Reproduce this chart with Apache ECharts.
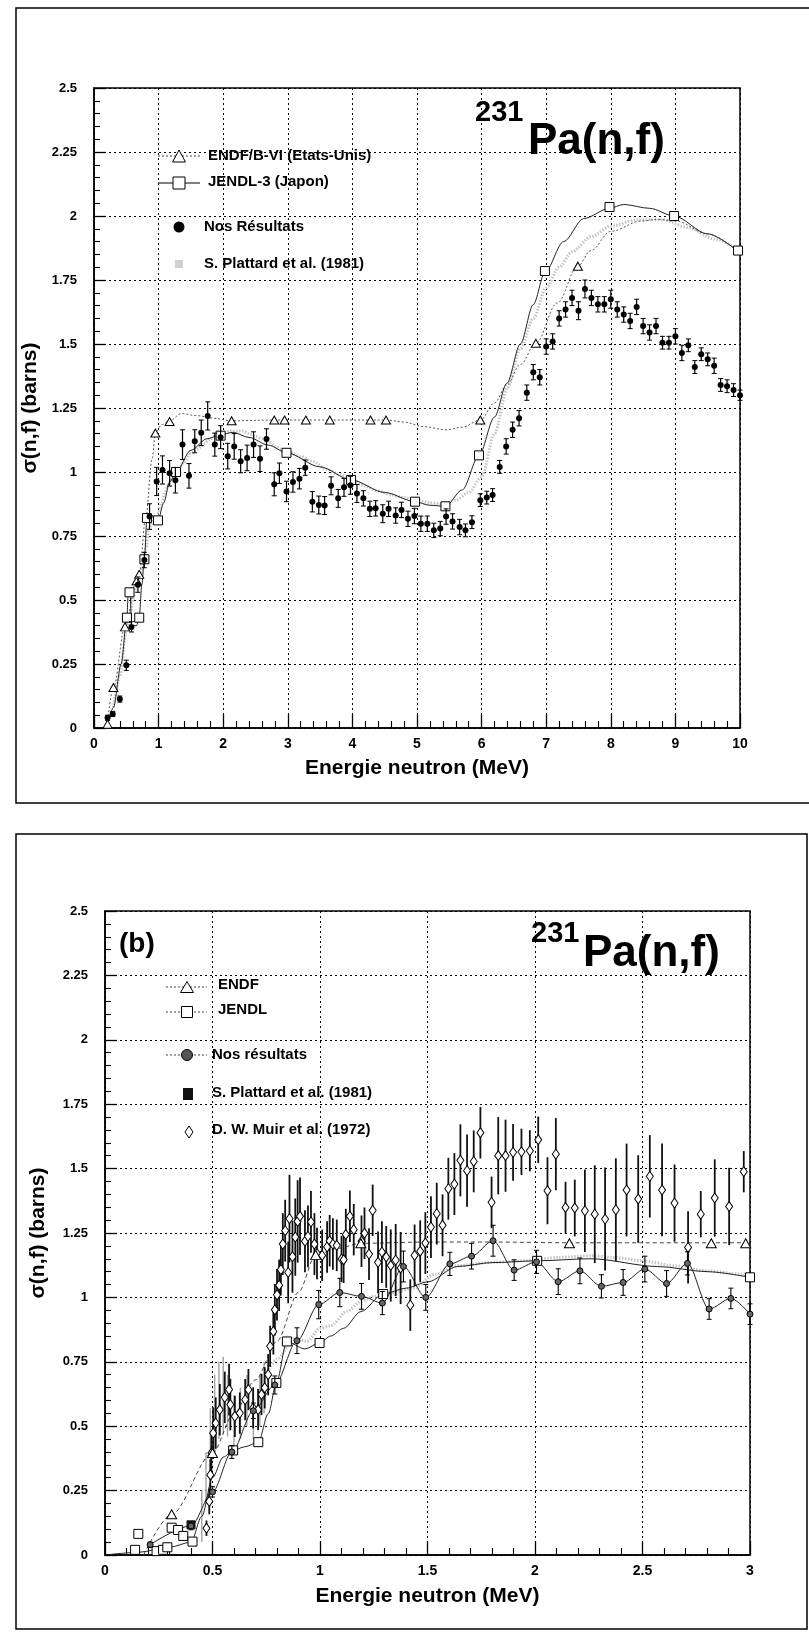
<!DOCTYPE html>
<html><head><meta charset="utf-8">
<script src="https://cdn.jsdelivr.net/npm/echarts/dist/echarts.min.js"></script>
<style>html,body{margin:0;padding:0;background:#fff}#c{width:809px;height:1635px}</style>
</head><body><div id="c"></div>
<script>
// ---------------- DATA (panel a : 0-10 MeV) ----------------
// [E (MeV), sigma (b), error]
const topNos = [[0.21,0.04,0.01],[0.29,0.055,0.01],[0.40,0.113,0.012],[0.50,0.245,0.02],[0.58,0.395,0.02],[0.68,0.56,0.03],[0.78,0.656,0.03],[0.86,0.826,0.05],[0.97,0.963,0.055],[1.06,1.008,0.055],[1.17,0.995,0.05],[1.26,0.968,0.05],[1.37,1.107,0.058],[1.47,0.985,0.048],[1.56,1.12,0.045],[1.66,1.153,0.05],[1.76,1.219,0.055],[1.87,1.107,0.045],[1.96,1.136,0.045],[2.07,1.062,0.05],[2.17,1.10,0.05],[2.27,1.042,0.045],[2.37,1.055,0.05],[2.47,1.107,0.05],[2.57,1.052,0.05],[2.67,1.129,0.04],[2.79,0.952,0.045],[2.87,0.995,0.04],[2.98,0.924,0.04],[3.08,0.961,0.04],[3.18,0.974,0.04],[3.27,1.017,0.03],[3.38,0.884,0.04],[3.48,0.871,0.035],[3.57,0.869,0.035],[3.67,0.946,0.035],[3.78,0.897,0.035],[3.87,0.940,0.035],[3.97,0.948,0.035],[4.07,0.916,0.035],[4.17,0.897,0.03],[4.27,0.856,0.03],[4.36,0.858,0.03],[4.47,0.837,0.035],[4.56,0.856,0.03],[4.67,0.83,0.03],[4.76,0.852,0.03],[4.86,0.817,0.03],[4.96,0.828,0.03],[5.06,0.798,0.03],[5.16,0.798,0.03],[5.26,0.772,0.028],[5.36,0.779,0.028],[5.45,0.826,0.03],[5.55,0.807,0.03],[5.66,0.785,0.03],[5.75,0.772,0.025],[5.85,0.804,0.025],[5.98,0.89,0.025],[6.08,0.90,0.025],[6.17,0.91,0.025],[6.28,1.02,0.025],[6.38,1.10,0.03],[6.48,1.165,0.03],[6.58,1.21,0.03],[6.70,1.31,0.03],[6.80,1.39,0.03],[6.90,1.37,0.03],[7.0,1.49,0.03],[7.1,1.51,0.03],[7.2,1.60,0.03],[7.3,1.635,0.03],[7.4,1.68,0.03],[7.5,1.63,0.035],[7.6,1.715,0.035],[7.7,1.68,0.03],[7.8,1.655,0.03],[7.9,1.655,0.03],[8.0,1.675,0.035],[8.1,1.635,0.03],[8.2,1.615,0.03],[8.3,1.59,0.03],[8.4,1.645,0.03],[8.5,1.57,0.03],[8.6,1.545,0.03],[8.7,1.57,0.03],[8.8,1.505,0.025],[8.9,1.505,0.025],[9.0,1.53,0.03],[9.1,1.465,0.03],[9.2,1.495,0.025],[9.3,1.41,0.025],[9.4,1.46,0.025],[9.5,1.44,0.025],[9.6,1.415,0.03],[9.7,1.34,0.025],[9.8,1.335,0.025],[9.9,1.32,0.025],[10.0,1.30,0.02]];
const topEndfCurve = [[0.2,0.0],[0.3,0.158],[0.48,0.395],[0.66,0.575],[0.70,0.60],[0.8,0.82],[0.9,1.05],[0.95,1.152],[1.05,1.185],[1.17,1.2],[1.35,1.228],[1.6,1.22],[1.85,1.21],[2.13,1.20],[2.8,1.203],[3.4,1.203],[4.0,1.203],[4.52,1.203],[4.8,1.195],[5.1,1.177],[5.45,1.165],[5.7,1.175],[5.98,1.203],[6.2,1.27],[6.39,1.34],[6.6,1.42],[6.84,1.503],[7.17,1.66],[7.49,1.804],[7.69,1.865],[8.0,1.94],[8.47,1.98],[8.73,1.987],[9.01,1.98],[9.5,1.93],[9.97,1.86]];
const topEndfMarks = [[0.21,0.015],[0.30,0.158],[0.48,0.395],[0.66,0.575],[0.70,0.60],[0.95,1.152],[1.17,1.197],[2.13,1.20],[2.79,1.203],[2.95,1.203],[3.28,1.203],[3.65,1.203],[4.28,1.203],[4.52,1.203],[5.98,1.203],[6.84,1.503],[7.49,1.804]];
const topJendlCurve = [[0.2,0.0],[0.3,0.08],[0.42,0.25],[0.51,0.431],[0.53,0.53],[0.56,0.53],[0.58,0.40],[0.66,0.40],[0.70,0.431],[0.74,0.56],[0.78,0.659],[0.82,0.82],[0.9,0.83],[0.99,0.811],[1.08,0.88],[1.17,0.96],[1.27,1.0],[1.5,1.085],[1.75,1.13],[1.96,1.145],[2.15,1.155],[2.4,1.135],[2.7,1.105],[2.98,1.075],[3.5,1.02],[3.98,0.969],[4.5,0.92],[4.97,0.884],[5.2,0.87],[5.44,0.866],[5.7,0.93],[5.96,1.065],[6.2,1.215],[6.39,1.346],[6.6,1.5],[6.8,1.654],[6.98,1.78],[7.27,1.90],[7.58,1.99],[7.98,2.03],[8.2,2.045],[8.6,2.03],[8.98,2.0],[9.5,1.93],[9.97,1.862]];
const topJendlMarks = [[0.51,0.431],[0.55,0.53],[0.70,0.431],[0.78,0.659],[0.82,0.82],[0.99,0.811],[1.27,1.0],[1.96,1.142],[2.98,1.075],[3.98,0.969],[4.97,0.884],[5.44,0.866],[5.96,1.065],[6.98,1.785],[7.98,2.035],[8.98,2.0],[9.97,1.865]];
const topPlattard = [[0.3,0.08],[0.4,0.2],[0.5,0.38],[0.55,0.42],[0.6,0.5],[0.65,0.55],[0.7,0.58],[0.75,0.62],[0.8,0.7],[0.85,0.78],[0.9,0.8],[0.95,0.82],[1.0,0.84],[1.05,0.88],[1.1,0.92],[1.15,0.95],[1.2,0.97],[1.3,1.01],[1.4,1.04],[1.5,1.07],[1.6,1.09],[1.7,1.11],[1.8,1.13],[1.9,1.145],[2.0,1.15],[2.1,1.16],[2.2,1.16],[2.3,1.16],[2.4,1.15],[2.5,1.14],[2.6,1.13],[2.7,1.12],[2.8,1.10],[2.9,1.09],[3.0,1.08],[3.2,1.06],[3.4,1.04],[3.6,1.01],[3.8,0.99],[4.0,0.97],[4.2,0.945],[4.4,0.925],[4.6,0.91],[4.8,0.90],[5.0,0.89],[5.2,0.88],[5.4,0.875],[5.6,0.89],[5.8,0.92],[6.0,0.98],[6.2,1.15],[6.4,1.33],[6.6,1.48],[6.8,1.6],[7.0,1.72],[7.2,1.8],[7.4,1.86],[7.7,1.92],[8.0,1.96],[8.4,1.985],[8.8,1.985],[9.2,1.955],[9.6,1.91],[10.0,1.865]];

// ---------------- DATA (panel b : 0-3 MeV) ----------------
const botNos = [[0.21,0.04,0.01],[0.40,0.113,0.015],[0.50,0.245,0.02],[0.59,0.40,0.025],[0.69,0.56,0.03],[0.79,0.66,0.035],[0.893,0.832,0.05],[0.994,0.972,0.055],[1.092,1.019,0.055],[1.193,1.004,0.05],[1.29,0.978,0.045],[1.388,1.12,0.06],[1.492,1.0,0.05],[1.604,1.13,0.045],[1.705,1.16,0.05],[1.805,1.22,0.06],[1.903,1.106,0.04],[2.007,1.138,0.045],[2.108,1.061,0.05],[2.209,1.103,0.05],[2.309,1.043,0.045],[2.41,1.058,0.05],[2.511,1.11,0.05],[2.612,1.054,0.05],[2.709,1.132,0.045],[2.81,0.955,0.04],[2.911,0.996,0.04],[3.0,0.935,0.04]];
const botEndfCurve = [[0.18,0.0],[0.31,0.158],[0.50,0.396],[0.6,0.55],[0.7,0.68],[0.8,0.83],[0.9,1.02],[0.98,1.165],[1.08,1.19],[1.19,1.21],[1.5,1.215],[1.8,1.215],[2.16,1.212],[2.5,1.212],[2.82,1.212],[3.0,1.212]];
const botEndfMarks = [[0.31,0.158],[0.50,0.396],[0.98,1.165],[1.19,1.21],[2.16,1.21],[2.82,1.21],[2.98,1.21]];
const botJendlCurve = [[0.0,0.0],[0.15,0.01],[0.3,0.03],[0.4,0.05],[0.45,0.15],[0.5,0.30],[0.55,0.38],[0.596,0.406],[0.65,0.42],[0.713,0.438],[0.76,0.55],[0.797,0.668],[0.846,0.829],[0.93,0.80],[0.998,0.823],[1.05,0.85],[1.11,0.88],[1.19,0.945],[1.294,1.013],[1.4,1.036],[1.5,1.06],[1.64,1.12],[1.8,1.135],[2.01,1.142],[2.26,1.15],[2.57,1.12],[2.8,1.10],[3.0,1.078]];
const botJendlMarks = [[0.14,0.02],[0.155,0.082],[0.24,0.015],[0.27,0.02],[0.29,0.03],[0.31,0.106],[0.34,0.097],[0.364,0.074],[0.407,0.052],[0.596,0.406],[0.713,0.438],[0.797,0.668],[0.846,0.829],[0.998,0.823],[1.294,1.013],[2.01,1.142],[3.0,1.078]];
const botPlattard = [[0.75,0.7],[0.8,0.76],[0.88,0.84],[0.94,0.83],[1.0,0.88],[1.05,0.89],[1.126,0.946],[1.19,0.984],[1.25,1.004],[1.33,1.017],[1.44,1.036],[1.53,1.088],[1.64,1.123],[1.8,1.136],[1.95,1.142],[2.11,1.155],[2.26,1.162],[2.37,1.155],[2.5,1.142],[2.65,1.123],[2.8,1.103],[2.96,1.09],[3.0,1.087]];
const botPlattardBars = [[0.45,0.15,0.1],[0.47,0.3,0.1],[0.49,0.45,0.12],[0.51,0.55,0.15],[0.53,0.6,0.15],[0.55,0.62,0.15],[0.57,0.58,0.12],[0.6,0.52,0.1],[0.63,0.55,0.1],[0.66,0.6,0.1],[0.69,0.55,0.1],[0.72,0.6,0.1],[0.74,0.65,0.1]];
const botPlattardSq = [[0.40,0.117]];
const botMuir = [[0.472,0.104,0.03],[0.485,0.208,0.05],[0.49,0.311,0.06],[0.495,0.396,0.08],[0.503,0.473,0.1],[0.515,0.512,0.1],[0.534,0.564,0.1],[0.557,0.612,0.1],[0.577,0.642,0.1],[0.583,0.584,0.1],[0.604,0.538,0.08],[0.627,0.551,0.08],[0.652,0.603,0.08],[0.667,0.642,0.08],[0.689,0.571,0.08],[0.712,0.564,0.08],[0.728,0.623,0.08],[0.743,0.649,0.08],[0.759,0.70,0.08],[0.768,0.81,0.08],[0.783,0.868,0.09],[0.79,0.952,0.1],[0.80,1.01,0.1],[0.81,1.047,0.1],[0.818,1.108,0.1],[0.827,1.207,0.12],[0.838,1.259,0.12],[0.852,1.097,0.12],[0.858,1.306,0.17],[0.872,1.158,0.14],[0.885,1.234,0.15],[0.896,1.295,0.16],[0.907,1.315,0.15],[0.93,1.218,0.12],[0.944,1.237,0.12],[0.958,1.293,0.12],[0.974,1.207,0.12],[0.986,1.17,0.1],[1.01,1.163,0.1],[1.033,1.196,0.1],[1.045,1.22,0.1],[1.06,1.207,0.1],[1.078,1.202,0.1],[1.10,1.149,0.09],[1.11,1.146,0.09],[1.12,1.244,0.1],[1.139,1.315,0.1],[1.157,1.263,0.1],[1.193,1.218,0.1],[1.207,1.249,0.1],[1.228,1.168,0.1],[1.245,1.338,0.1],[1.27,1.136,0.12],[1.288,1.176,0.12],[1.308,1.157,0.12],[1.329,1.124,0.14],[1.352,1.145,0.14],[1.375,1.114,0.14],[1.42,0.97,0.1],[1.44,1.163,0.12],[1.466,1.179,0.12],[1.49,1.211,0.12],[1.516,1.273,0.12],[1.543,1.325,0.12],[1.57,1.28,0.12],[1.597,1.422,0.12],[1.625,1.44,0.12],[1.653,1.532,0.14],[1.684,1.492,0.14],[1.715,1.528,0.12],[1.746,1.639,0.1],[1.798,1.369,0.1],[1.829,1.55,0.15],[1.863,1.55,0.14],[1.898,1.563,0.11],[1.937,1.565,0.09],[1.976,1.569,0.08],[2.015,1.612,0.09],[2.058,1.414,0.13],[2.097,1.556,0.14],[2.142,1.349,0.1],[2.185,1.347,0.11],[2.232,1.336,0.16],[2.278,1.323,0.19],[2.326,1.304,0.2],[2.376,1.34,0.2],[2.426,1.417,0.18],[2.48,1.382,0.17],[2.534,1.47,0.16],[2.591,1.417,0.18],[2.649,1.366,0.15],[2.712,1.194,0.14],[2.771,1.323,0.09],[2.836,1.386,0.15],[2.903,1.353,0.15],[2.971,1.488,0.08]];

// axis ranges / labels
const topXRange = [0, 10, 1];
const botXRange = [0, 3, 0.5];
const yRange = [0, 2.5, 0.25];
const xTitle = 'Energie neutron (MeV)';
const yTitle = 'σ(n,f) (barns)';

// ---------------- CHART ----------------
const FONT = "'Liberation Sans', Arial, Helvetica, sans-serif";
const chart = echarts.init(document.getElementById('c'), null, {renderer: 'canvas'});

function xAxisCfg(gi, r, gap) {
  return {
    type: 'value', gridIndex: gi, min: r[0], max: r[1], interval: r[2],
    axisLine: {show: true, onZero: false, lineStyle: {color: '#000', width: 1.5}},
    axisTick: {show: true, inside: true, length: 14, lineStyle: {color: '#000', width: 1.3}},
    minorTick: {show: true, splitNumber: 5, length: 7, lineStyle: {color: '#000', width: 1.1}},
    splitLine: {show: true, lineStyle: {color: '#000', width: 1, type: [2, 3]}},
    axisLabel: {color: '#000', fontFamily: FONT, fontWeight: 'bold', fontSize: 14, margin: 9},
    name: xTitle, nameLocation: 'middle', nameGap: gap,
    nameTextStyle: {color: '#000', fontFamily: FONT, fontWeight: 'bold', fontSize: 21}
  };
}
function yAxisCfg(gi, gap) {
  return {
    type: 'value', gridIndex: gi, min: yRange[0], max: yRange[1], interval: yRange[2],
    axisLine: {show: true, onZero: false, lineStyle: {color: '#000', width: 1.5}},
    axisTick: {show: true, inside: true, length: 12, lineStyle: {color: '#000', width: 1.3}},
    minorTick: {show: true, splitNumber: 5, length: 6, lineStyle: {color: '#000', width: 1.1}},
    splitLine: {show: true, lineStyle: {color: '#000', width: 1, type: [2, 3]}},
    axisLabel: {color: '#000', fontFamily: FONT, fontWeight: 'bold', fontSize: 13, margin: 17},
    name: yTitle, nameLocation: 'middle', nameGap: gap,
    nameTextStyle: {color: '#000', fontFamily: FONT, fontWeight: 'bold', fontSize: 21}
  };
}
function errSeries(gi, data, color, width, cap, z) {
  return {
    type: 'custom', xAxisIndex: gi, yAxisIndex: gi, data: data, z: z, silent: true,
    encode: {x: 0, y: 1},
    renderItem: function (params, api) {
      const x = api.value(0), y = api.value(1), e = api.value(2);
      const p1 = api.coord([x, y + e]), p2 = api.coord([x, Math.max(0, y - e)]);
      const ch = [{type: 'line', shape: {x1: p1[0], y1: p1[1], x2: p2[0], y2: p2[1]}, style: {stroke: color, lineWidth: width}}];
      if (cap) {
        ch.push({type: 'line', shape: {x1: p1[0] - cap, y1: p1[1], x2: p1[0] + cap, y2: p1[1]}, style: {stroke: color, lineWidth: 1}});
        ch.push({type: 'line', shape: {x1: p2[0] - cap, y1: p2[1], x2: p2[0] + cap, y2: p2[1]}, style: {stroke: color, lineWidth: 1}});
      }
      return {type: 'group', children: ch};
    }
  };
}
function lineS(gi, data, color, width, type, smooth, z) {
  return {type: 'line', xAxisIndex: gi, yAxisIndex: gi, data: data, showSymbol: false, symbol: 'none',
    smooth: smooth, smoothMonotone: 'x', z: z, silent: true,
    lineStyle: {color: color, width: width, type: type}};
}
function scat(gi, data, symbol, size, fill, border, bw, z) {
  return {type: 'scatter', xAxisIndex: gi, yAxisIndex: gi, data: data, symbol: symbol, symbolSize: size, z: z, silent: true,
    itemStyle: {color: fill, borderColor: border, borderWidth: bw, opacity: 1}};
}

// legend & titles (pixel layout only)
function txt(x, y, s, size, extra) {
  return Object.assign({type: 'text', x: x, y: y, style: {text: s, fill: '#000', font: 'bold ' + size + 'px ' + FONT, verticalAlign: 'middle', align: 'left'}, z: 50}, extra || {});
}
function tri(cx, cy, w, h) {
  return {type: 'polygon', shape: {points: [[cx, cy - h / 2], [cx - w / 2, cy + h / 2], [cx + w / 2, cy + h / 2]]}, style: {fill: '#fff', stroke: '#000', lineWidth: 1}, z: 51};
}
function sq(cx, cy, s, fill) {
  return {type: 'rect', shape: {x: cx - s / 2, y: cy - s / 2, width: s, height: s}, style: {fill: fill || '#fff', stroke: '#000', lineWidth: 1}, z: 51};
}
function seg(x1, x2, y, color, dash) {
  return {type: 'line', shape: {x1: x1, y1: y, x2: x2, y2: y}, style: {stroke: color, lineWidth: 1, lineDash: dash}, z: 50};
}
const graphics = [
  // page frames
  {type: 'polyline', shape: {points: [[820, 8], [16, 8], [16, 803], [820, 803]]}, style: {stroke: '#000', lineWidth: 1.5, fill: null}, z: 40},
  {type: 'rect', shape: {x: 16, y: 834, width: 791, height: 795}, style: {stroke: '#000', lineWidth: 1.5, fill: null}, z: 40},
  // titles panel a
  txt(475, 113, '231', 29), txt(528, 142, 'Pa(n,f)', 44),
  // titles panel b
  txt(531, 934, '231', 29), txt(583, 954, 'Pa(n,f)', 44),
  txt(119, 944, '(b)', 28),
  // legend panel a
  seg(158, 200, 156, '#444', [2, 2]), tri(179, 156, 13, 12), txt(208, 156, 'ENDF/B-VI (Etats-Unis)', 15),
  seg(158, 200, 183, '#000', null), sq(179, 183, 12), txt(208, 182, 'JENDL-3 (Japon)', 15),
  {type: 'circle', shape: {cx: 179, cy: 227, r: 5.5}, style: {fill: '#000'}, z: 51}, txt(204, 227, 'Nos Résultats', 15),
  {type: 'rect', shape: {x: 175, y: 260, width: 8, height: 8}, style: {fill: '#d0d0d0'}, z: 51}, txt(204, 264, 'S. Plattard et al. (1981)', 15),
  // legend panel b
  seg(166, 207, 987, '#444', [2, 2]), tri(187, 987, 13, 11), txt(218, 985, 'ENDF', 15),
  seg(166, 207, 1012, '#444', [2, 2]), sq(187, 1012, 11), txt(218, 1010, 'JENDL', 15),
  seg(166, 207, 1055, '#444', [2, 2]), {type: 'circle', shape: {cx: 187, cy: 1055, r: 5.5}, style: {fill: '#555', stroke: '#000', lineWidth: 1}, z: 51}, txt(212, 1055, 'Nos résultats', 15),
  {type: 'rect', shape: {x: 183, y: 1088, width: 10, height: 12}, style: {fill: '#111'}, z: 51}, txt(212, 1093, 'S. Plattard et al. (1981)', 15),
  {type: 'polygon', shape: {points: [[189, 1126], [193, 1132], [189, 1138], [185, 1132]]}, style: {fill: '#fff', stroke: '#000', lineWidth: 1}, z: 51}, txt(212, 1130, 'D. W. Muir et al. (1972)', 15)
];

const option = {
  backgroundColor: '#fff',
  animation: false,
  grid: [
    {left: 94, top: 88, width: 646, height: 640, show: true, borderColor: '#000', borderWidth: 1.5},
    {left: 105, top: 911, width: 645, height: 644, show: true, borderColor: '#000', borderWidth: 1.5}
  ],
  xAxis: [xAxisCfg(0, topXRange, 30), xAxisCfg(1, botXRange, 31)],
  yAxis: [yAxisCfg(0, 52), yAxisCfg(1, 56)],
  graphic: {elements: graphics},
  series: [
    // panel a
    lineS(0, topPlattard, '#c4c4c4', 3, [1.5, 1.5], 0.3, 1),
    lineS(0, topEndfCurve, '#555', 1, [2, 2], 0.35, 2),
    lineS(0, topJendlCurve, '#222', 1, 'solid', 0.3, 2),
    scat(0, topEndfMarks, 'triangle', [9, 8], '#fff', '#000', 1, 4),
    scat(0, topJendlMarks, 'rect', 9, '#fff', '#000', 1, 4),
    errSeries(0, topNos, '#000', 1.2, 2.5, 5),
    scat(0, topNos, 'circle', 6, '#000', '#000', 0, 6),
    // panel b
    lineS(1, botPlattard, '#c4c4c4', 3, [1.5, 1.5], 0.3, 1),
    errSeries(1, botPlattardBars, '#a8a8a8', 1.5, 0, 1),
    lineS(1, botEndfCurve, '#444', 1, [4, 3], 0.3, 2),
    lineS(1, botJendlCurve, '#222', 1, 'solid', 0.3, 2),
    lineS(1, botNos, '#222', 1, 'solid', 0.3, 3),
    errSeries(1, botMuir, '#111', 1.8, 0, 4),
    scat(1, botMuir, 'diamond', [7, 10], '#fff', '#000', 1, 5),
    scat(1, botEndfMarks, 'triangle', [10, 9], '#fff', '#000', 1, 5),
    scat(1, botJendlMarks, 'rect', 9, '#fff', '#000', 1, 5),
    scat(1, botPlattardSq, 'rect', 8, '#333', '#000', 1, 5),
    errSeries(1, botNos, '#000', 1.1, 2.5, 6),
    scat(1, botNos, 'circle', 6, '#666', '#000', 1, 7)
  ]
};
chart.setOption(option);
</script></body></html>
